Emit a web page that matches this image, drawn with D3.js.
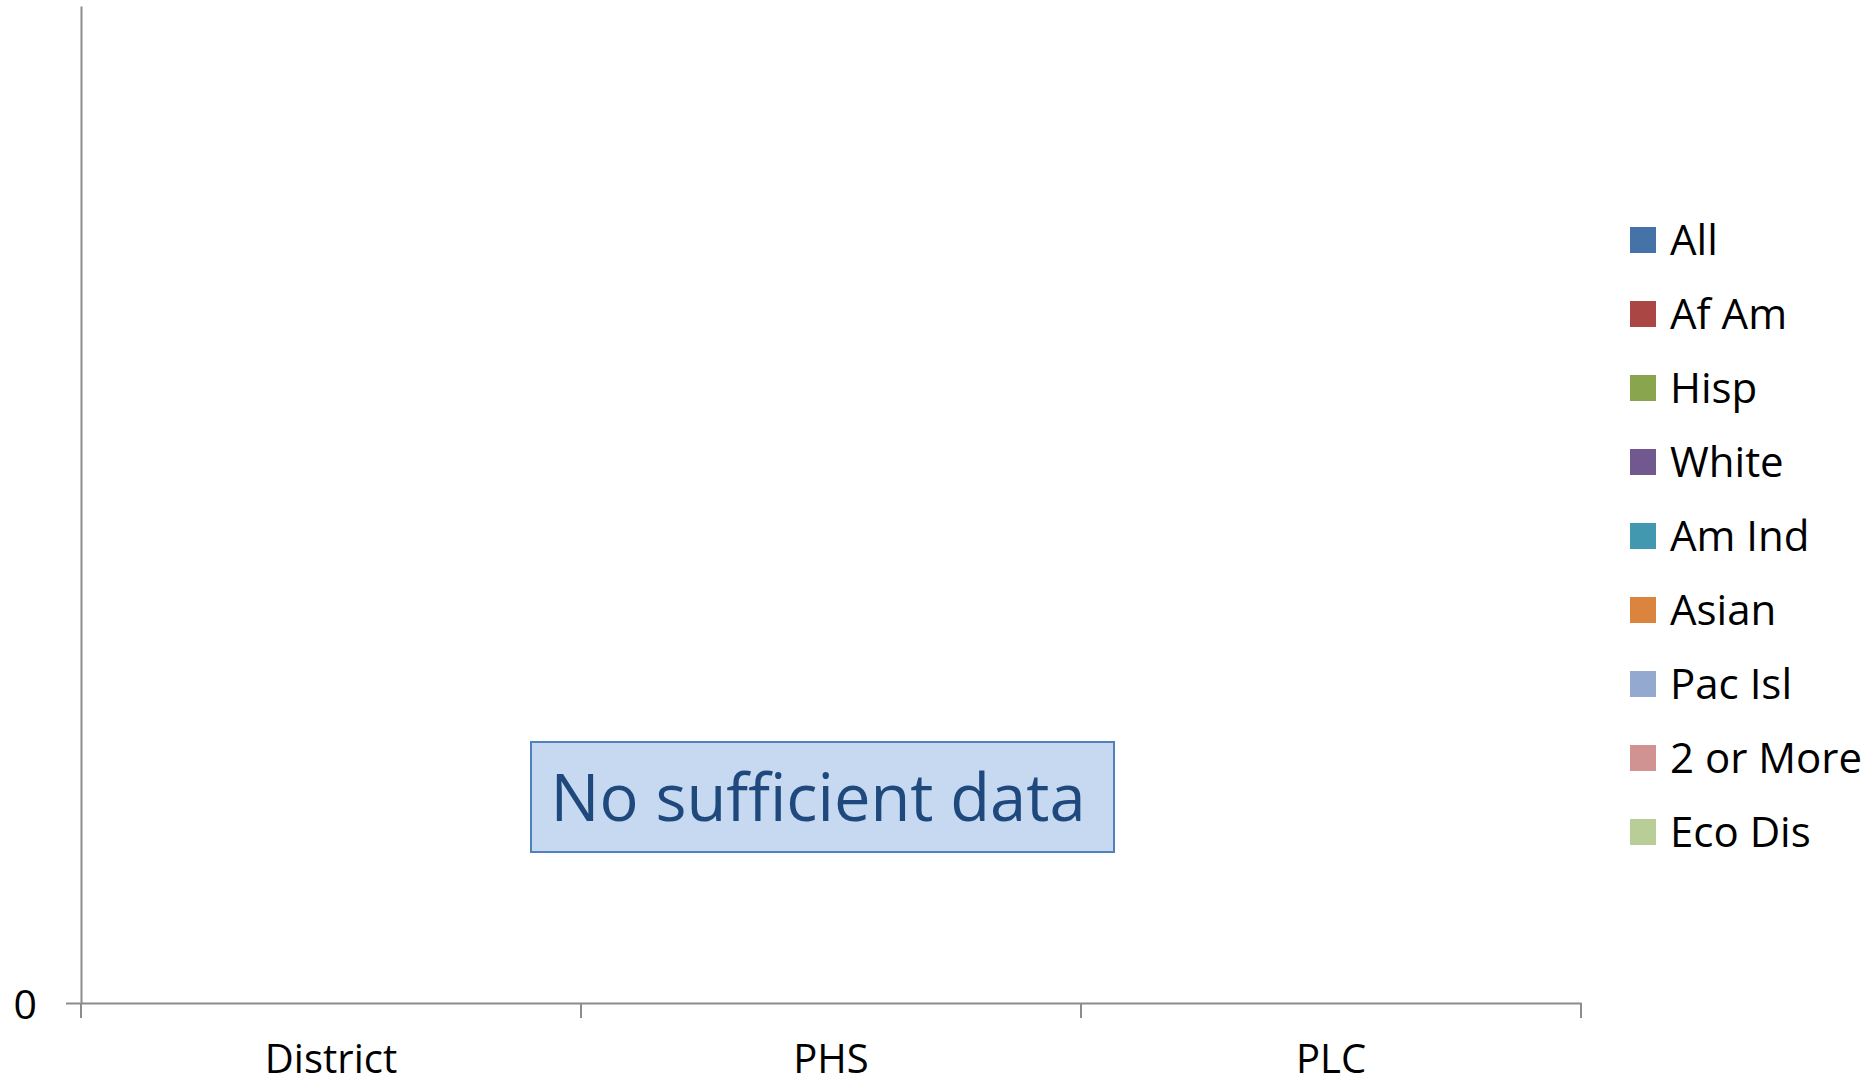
<!DOCTYPE html>
<html>
<head>
<meta charset="utf-8">
<script src="https://cdn.jsdelivr.net/npm/d3@7"></script>
<style>
  html, body { margin: 0; padding: 0; background: #fff; }
  svg { display: block; }
  text { font-family: "Open Sans", "Noto Sans", sans-serif; }
</style>
</head>
<body>
<svg id="chart" width="1874" height="1085"></svg>
<script>
// Schools compared
const categories = ["District", "PHS", "PLC"];

// Student groups (one series each); no values reported for any school
const seriesNames = ["All", "Af Am", "Hisp", "White", "Am Ind", "Asian", "Pac Isl", "2 or More", "Eco Dis"];
const seriesColors = ["#4572A7", "#AA4643", "#89A54E", "#71588F", "#4198AF", "#DB843D", "#93A9CF", "#D19392", "#B9CD96"];
const seriesValues = [
  [null, null, null],
  [null, null, null],
  [null, null, null],
  [null, null, null],
  [null, null, null],
  [null, null, null],
  [null, null, null],
  [null, null, null],
  [null, null, null]
];

// Value axis labels
const yTickValues = [0];
const noDataMessage = "No sufficient data";

const svg = d3.select("#chart");
const W = 1874, H = 1085;
svg.append("rect").attr("width", W).attr("height", H).attr("fill", "#fff");

const plot = { left: 81, right: 1581, top: 6, bottom: 1003 };
const axisColor = "#8c8c8c";

const x = d3.scaleBand().domain(categories).range([plot.left, plot.right]).padding(0);
const y = d3.scaleLinear().domain([0, 1]).range([plot.bottom, plot.top]);

// Bars (clustered) drawn from the series values; empty series produce no marks
const inner = d3.scaleBand().domain(seriesNames).range([0, x.bandwidth()]).paddingOuter(0.6);
const barRows = [];
seriesNames.forEach((s, i) => {
  categories.forEach((c, j) => {
    const v = seriesValues[i][j];
    if (v != null) barRows.push({ s, c, v, color: seriesColors[i] });
  });
});
svg.append("g").selectAll("rect").data(barRows).join("rect")
  .attr("x", d => x(d.c) + inner(d.s))
  .attr("width", inner.bandwidth())
  .attr("y", d => y(d.v))
  .attr("height", d => y(0) - y(d.v))
  .attr("fill", d => d.color);

// Value axis
const yAxis = svg.append("g")
  .attr("transform", `translate(${plot.left},0)`)
  .call(d3.axisLeft(y).tickValues(yTickValues).tickSize(15).tickSizeOuter(0).tickPadding(29).tickFormat(d3.format("d")));
yAxis.select(".domain").attr("stroke", axisColor).attr("stroke-width", 2);
yAxis.selectAll(".tick line").attr("stroke", axisColor).attr("stroke-width", 2);
yAxis.selectAll(".tick text")
  .attr("fill", "#000").attr("font-size", 41)
  .attr("font-family", "Open Sans, sans-serif")
  .attr("dy", "0.38em");

// Category axis: line, boundary ticks, centered labels
const xAxis = svg.append("g")
  .attr("transform", `translate(0,${plot.bottom})`)
  .call(d3.axisBottom(x).tickSize(0).tickSizeOuter(0).tickPadding(70));
xAxis.select(".domain").attr("stroke", axisColor).attr("stroke-width", 2);
xAxis.selectAll(".tick text")
  .attr("fill", "#000").attr("font-size", 40)
  .attr("font-family", "Open Sans, sans-serif")
  .attr("dy", "0");

const boundaries = categories.map(c => x(c)).concat([x.range()[1]]);
xAxis.selectAll("line.boundary").data(boundaries).join("line")
  .attr("class", "boundary")
  .attr("x1", d => d).attr("x2", d => d)
  .attr("y1", 0).attr("y2", 15)
  .attr("stroke", axisColor).attr("stroke-width", 2);

// Empty-data notice
const msg = svg.append("g");
msg.append("rect")
  .attr("x", 531).attr("y", 742).attr("width", 583).attr("height", 110)
  .attr("fill", "#C6D9F1").attr("stroke", "#4F81BD").attr("stroke-width", 2);
msg.append("text")
  .attr("x", 818).attr("y", 821)
  .attr("text-anchor", "middle")
  .attr("font-size", 65)
  .attr("fill", "#1F497D")
  .text(noDataMessage);

// Legend
const legend = svg.append("g").attr("transform", "translate(1630,227)");
const items = legend.selectAll("g").data(seriesNames).join("g")
  .attr("transform", (d, i) => `translate(0,${i * 74})`);
items.append("rect")
  .attr("width", 26).attr("height", 26)
  .attr("fill", (d, i) => seriesColors[i]);
items.append("text")
  .attr("x", 40).attr("y", 28)
  .attr("font-size", 42)
  .attr("fill", "#000")
  .text(d => d);
</script>
</body>
</html>
